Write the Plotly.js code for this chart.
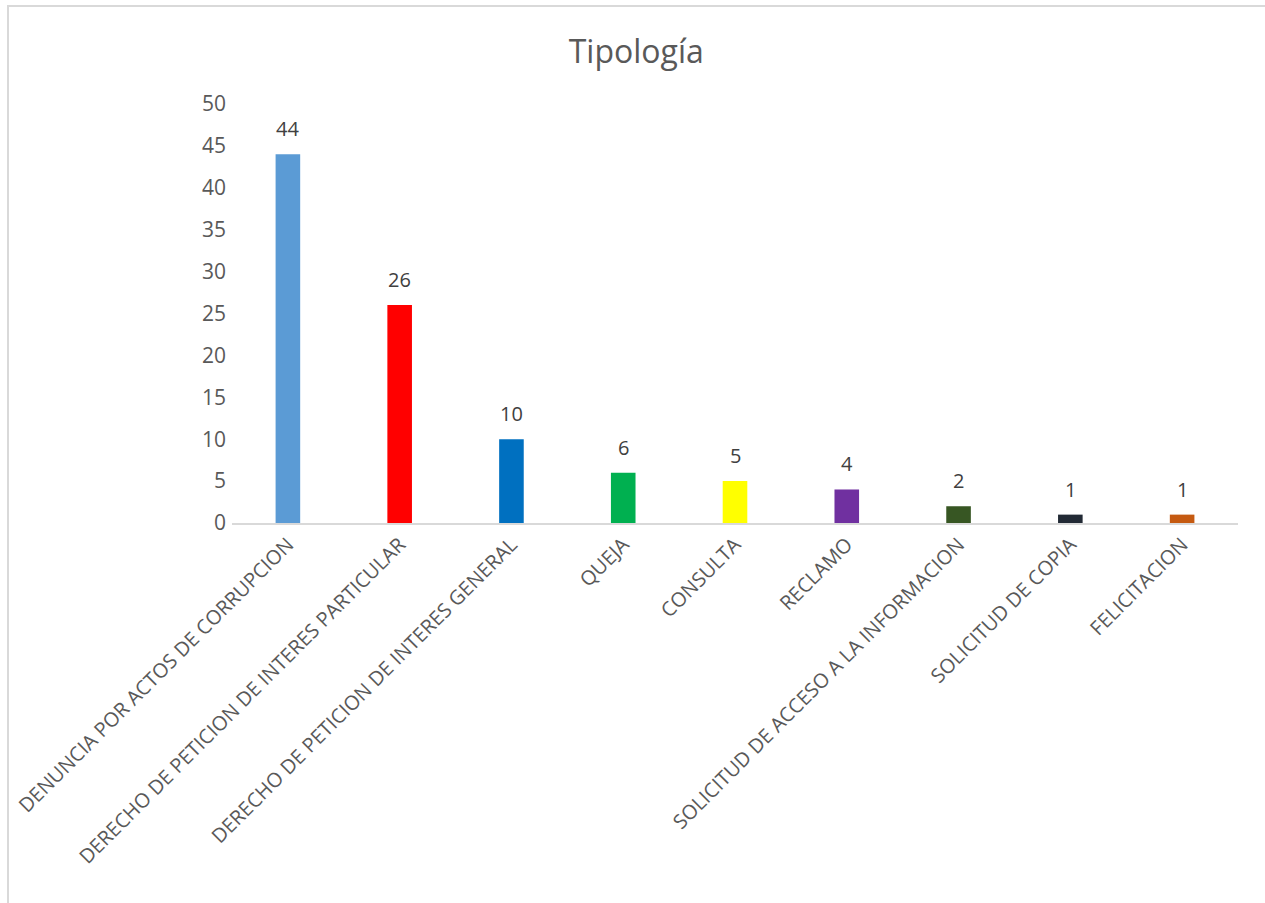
<!DOCTYPE html>
<html>
<head>
<meta charset="utf-8">
<script src="https://cdn.plot.ly/plotly-3.0.1.min.js"></script>
<style>
  html, body { margin: 0; padding: 0; background: #fff; }
  #frame { position: absolute; left: 0; top: 0; width: 1265px; height: 903px; }
  #border { position: absolute; left: 7px; top: 5px; width: 1265px; height: 903px;
            border-top: 2px solid #d9d9d9; border-left: 2px solid #d9d9d9; pointer-events: none; }
  #chart { position: absolute; left: 0; top: 0; width: 1265px; height: 903px; }
</style>
</head>
<body>
<div id="frame">
  <div id="chart"></div>
  <div id="border"></div>
</div>
<script>
const categories = [
  "DENUNCIA POR ACTOS DE CORRUPCION",
  "DERECHO DE PETICION DE INTERES PARTICULAR",
  "DERECHO DE PETICION DE INTERES GENERAL",
  "QUEJA",
  "CONSULTA",
  "RECLAMO",
  "SOLICITUD DE ACCESO A LA INFORMACION",
  "SOLICITUD DE COPIA",
  "FELICITACION"
];
const values = [44, 26, 10, 6, 5, 4, 2, 1, 1];
const barColors = ["#5B9BD5", "#FF0000", "#0070C0", "#00B050", "#FFFF00", "#7030A0", "#375623", "#222A35", "#C55A11"];
const yTicks = [0, 5, 10, 15, 20, 25, 30, 35, 40, 45, 50];

const font = "'Open Sans', sans-serif";

const trace = {
  type: "bar",
  x: categories,
  y: values,
  marker: { color: barColors },
  hoverinfo: "x+y"
};

const annotations = categories.map((c, i) => ({
  x: c,
  y: values[i],
  xref: "x",
  yref: "y",
  text: String(values[i]),
  showarrow: false,
  yanchor: "bottom",
  yshift: 10,
  font: { family: font, size: 20, color: "#404040" }
}));

const layout = {
  width: 1265,
  height: 903,
  margin: { l: 232, r: 27, t: 104, b: 380 },
  paper_bgcolor: "#ffffff",
  plot_bgcolor: "#ffffff",
  title: {
    text: "Tipología",
    font: { family: font, size: 32, color: "#595959" },
    x: 0.503, xanchor: "center",
    y: 0.943, yanchor: "middle"
  },
  bargap: 0.78,
  showlegend: false,
  annotations: annotations,
  xaxis: {
    type: "category",
    tickangle: -45,
    tickfont: { family: font, size: 20, color: "#595959" },
    showline: true,
    linecolor: "#d9d9d9",
    linewidth: 2,
    ticks: "",
    showgrid: false,
    zeroline: false
  },
  yaxis: {
    range: [0, 50],
    tickvals: yTicks,
    ticktext: yTicks.map(String),
    tickfont: { family: font, size: 21, color: "#595959" },
    showline: false,
    showgrid: false,
    zeroline: false,
    ticks: "",
    ticklabelstandoff: 5
  }
};

Plotly.newPlot("chart", [trace], layout, { displayModeBar: false, staticPlot: true });
</script>
</body>
</html>
